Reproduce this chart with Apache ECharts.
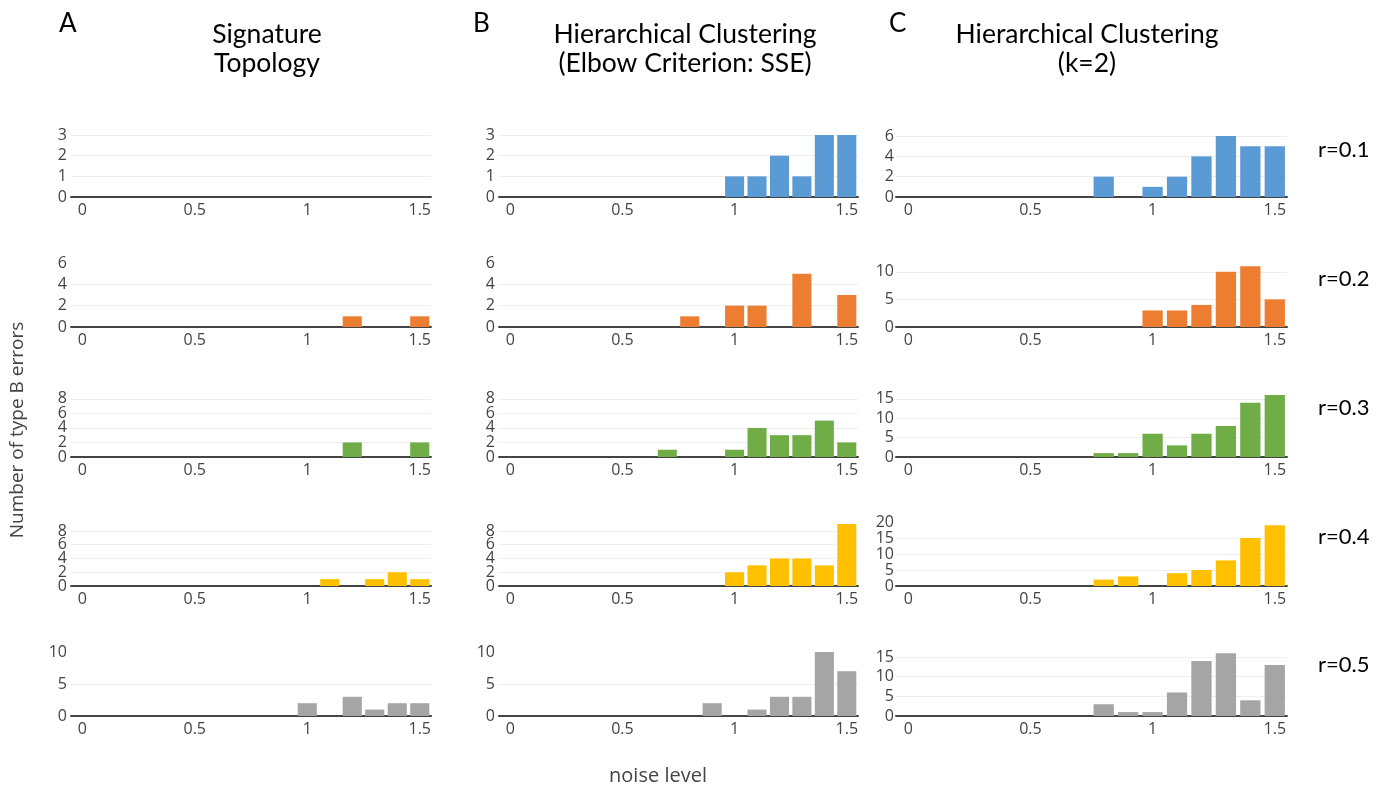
<!DOCTYPE html>
<html>
<head>
<meta charset="utf-8">
<script src="https://cdn.jsdelivr.net/npm/echarts@6/dist/echarts.min.js"></script>
<style>
html,body{margin:0;padding:0;background:#fff;}
#chart{width:1392px;height:789px;}
</style>
</head>
<body>
<div id="chart"></div>
<script>
// noise levels (x categories)
const noiseLevels = ['0','0.1','0.2','0.3','0.4','0.5','0.6','0.7','0.8','0.9','1','1.1','1.2','1.3','1.4','1.5'];
const xTickLabels = ['0','0.5','1','1.5'];

// A: Signature Topology
const sigTopo_r01 = [0,0,0,0,0,0,0,0,0,0,0,0,0,0,0,0];
const sigTopo_r02 = [0,0,0,0,0,0,0,0,0,0,0,0,1,0,0,1];
const sigTopo_r03 = [0,0,0,0,0,0,0,0,0,0,0,0,2,0,0,2];
const sigTopo_r04 = [0,0,0,0,0,0,0,0,0,0,0,1,0,1,2,1];
const sigTopo_r05 = [0,0,0,0,0,0,0,0,0,0,2,0,3,1,2,2];

// B: Hierarchical Clustering (Elbow Criterion: SSE)
const hcElbow_r01 = [0,0,0,0,0,0,0,0,0,0,1,1,2,1,3,3];
const hcElbow_r02 = [0,0,0,0,0,0,0,0,1,0,2,2,0,5,0,3];
const hcElbow_r03 = [0,0,0,0,0,0,0,1,0,0,1,4,3,3,5,2];
const hcElbow_r04 = [0,0,0,0,0,0,0,0,0,0,2,3,4,4,3,9];
const hcElbow_r05 = [0,0,0,0,0,0,0,0,0,2,0,1,3,3,10,7];

// C: Hierarchical Clustering (k=2)
const hcK2_r01 = [0,0,0,0,0,0,0,0,2,0,1,2,4,6,5,5];
const hcK2_r02 = [0,0,0,0,0,0,0,0,0,0,3,3,4,10,11,5];
const hcK2_r03 = [0,0,0,0,0,0,0,0,1,1,6,3,6,8,14,16];
const hcK2_r04 = [0,0,0,0,0,0,0,0,2,3,0,4,5,8,15,19];
const hcK2_r05 = [0,0,0,0,0,0,0,0,3,1,1,6,14,16,4,13];

const rowLabels = ['r=0.1','r=0.2','r=0.3','r=0.4','r=0.5'];
const colTitles = ['Signature\nTopology','Hierarchical Clustering\n(Elbow Criterion: SSE)','Hierarchical Clustering\n(k=2)'];
const panelLetters = ['A','B','C'];

// y-axis ranges / tick steps per row (A & B share; C separate)
const yMaxAB = [3.1, 6, 8.8, 9.3, 10];
const yStepAB = [1, 2, 2, 2, 5];
const yMaxC = [6.3, 11.6, 16.5, 20, 16.3];
const yStepC = [2, 5, 5, 5, 5];

const rowColors = ['#5B9BD5','#ED7D31','#70AD47','#FFC000','#A5A5A5'];

const columns = [
  [sigTopo_r01, sigTopo_r02, sigTopo_r03, sigTopo_r04, sigTopo_r05],
  [hcElbow_r01, hcElbow_r02, hcElbow_r03, hcElbow_r04, hcElbow_r05],
  [hcK2_r01, hcK2_r02, hcK2_r03, hcK2_r04, hcK2_r05]
];

// layout
const colLeft = [71, 499, 896];
const colWidth = [360, 359, 391];
const rowZero = [197, 327, 457, 586, 716];
const plotH = 64;
const colGap = ['15%', '15%', '17%'];
const font = "'Open Sans', 'Noto Sans', sans-serif";
const titleFont = "Lato, 'Open Sans', sans-serif";
const labelSize = 16;

const grids = [], xAxes = [], yAxes = [], series = [];
let gi = 0;
for (let r = 0; r < 5; r++) {
  for (let c = 0; c < 3; c++) {
    grids.push({left: colLeft[c], top: rowZero[r] - plotH, width: colWidth[c], height: plotH, containLabel: false});
    xAxes.push({
      type: 'category', gridIndex: gi, data: noiseLevels, boundaryGap: true,
      axisLine: {show: true, lineStyle: {color: '#444', width: 2}},
      axisTick: {show: false},
      axisLabel: {
        interval: function(i, v){ return xTickLabels.indexOf(v) >= 0; },
        color: '#444', fontSize: labelSize, fontFamily: font, margin: 5
      },
      splitLine: {show: false}
    });
    const ymax = c < 2 ? yMaxAB[r] : yMaxC[r];
    const ystep = c < 2 ? yStepAB[r] : yStepC[r];
    const tickVals = [];
    for (let k = 0; k * ystep <= ymax + 1e-9; k++) tickVals.push(k * ystep);
    const spacing = plotH * ystep / ymax;
    const split = spacing < 16.5;
    const primVals = split ? tickVals.filter((v, k) => k % 2 === 0) : tickVals;
    const secVals = split ? tickVals.filter((v, k) => k % 2 === 1) : [];
    const labelBase = {color: '#444', fontSize: labelSize, fontFamily: font, margin: c < 2 ? 4 : 2,
                       hideOverlap: false, showMinLabel: true, showMaxLabel: true};
    const primIndex = yAxes.length;
    yAxes.push({
      type: 'value', gridIndex: gi, min: 0, max: ymax, interval: ystep, position: 'left', offset: 0,
      axisLine: {show: false}, axisTick: {show: false},
      axisLabel: Object.assign({customValues: primVals}, labelBase),
      splitLine: {show: true, showMinLine: false, showMaxLine: false, lineStyle: {color: '#eeeeee', width: 1}}
    });
    if (split) {
      yAxes.push({
        type: 'value', gridIndex: gi, min: 0, max: ymax, interval: ystep, position: 'left', offset: 0,
        axisLine: {show: false}, axisTick: {show: false},
        axisLabel: Object.assign({customValues: secVals}, labelBase),
        splitLine: {show: false}
      });
    }
    series.push({
      type: 'bar', xAxisIndex: gi, yAxisIndex: primIndex,
      data: columns[c][r], barCategoryGap: colGap[c],
      itemStyle: {color: rowColors[r]},
      silent: true, animation: false
    });
    gi++;
  }
}

const titles = [];
const colCenters = [262, 680, 1082];
const letterLeft = [54, 468, 884];
for (let c = 0; c < 3; c++) {
  titles.push({text: colTitles[c], left: colCenters[c], top: 15, textAlign: 'center',
    textStyle: {fontSize: 26.5, fontWeight: 'normal', color: '#000', fontFamily: titleFont, lineHeight: 29}});
  titles.push({text: panelLetters[c], left: letterLeft[c], top: 6,
    textStyle: {fontSize: 26, fontWeight: 'normal', color: '#000', fontFamily: titleFont}});
}
const rowLabelY = [150, 279, 408, 537, 665];
for (let r = 0; r < 5; r++) {
  titles.push({text: rowLabels[r], left: 1313, top: rowLabelY[r] - 16,
    textStyle: {fontSize: 22, fontWeight: 'normal', color: '#000', fontFamily: titleFont}});
}

const chart = echarts.init(document.getElementById('chart'), null, {renderer: 'canvas'});
chart.setOption({
  animation: false,
  backgroundColor: '#fff',
  title: titles,
  grid: grids,
  xAxis: xAxes,
  yAxis: yAxes,
  series: series,
  graphic: [
    {type: 'text', x: 18, y: 430, rotation: Math.PI / 2,
     style: {text: 'Number of type B errors', fontSize: 19, fill: '#444', fontFamily: font, align: 'center', verticalAlign: 'middle'}},
    {type: 'text', x: 658, y: 776,
     style: {text: 'noise level', fontSize: 20, fill: '#444', fontFamily: font, align: 'center', verticalAlign: 'middle'}}
  ]
});
</script>
</body>
</html>
